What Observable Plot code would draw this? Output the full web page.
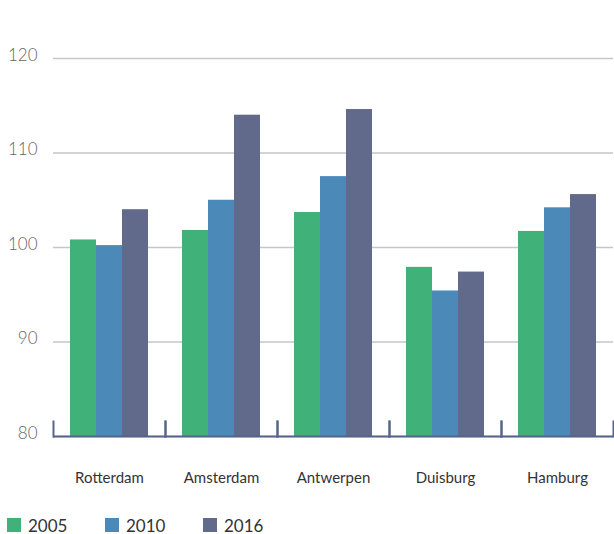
<!DOCTYPE html>
<html>
<head>
<meta charset="utf-8">
<script src="https://cdn.jsdelivr.net/npm/d3@7"></script>
<script src="https://cdn.jsdelivr.net/npm/@observablehq/plot@0.6"></script>
<style>
  html, body { margin: 0; padding: 0; background: #fff; }
  #chart { width: 614px; }
  .legend { display: flex; margin: 11px 0 0 7px; font: 17px Lato, sans-serif; color: #333; }
  .legend .item { display: flex; align-items: center; width: 98px; height: 18px; }
  .legend .swatch { width: 14px; height: 14px; margin-right: 7px; flex: none; }
</style>
</head>
<body>
<div id="chart"></div>
<script>
// Port throughput index by city and year
const cities = ["Rotterdam", "Amsterdam", "Antwerpen", "Duisburg", "Hamburg"];
const years = ["2005", "2010", "2016"];
const values2005 = [100.8, 101.8, 103.7, 97.9, 101.7];
const values2010 = [100.2, 105.0, 107.5, 95.4, 104.2];
const values2016 = [104.0, 114.0, 114.6, 97.4, 105.6];
const yTicks = [80, 90, 100, 110, 120];
const colors = ["#41b17a", "#4b89b8", "#626a8c"];

const series = [values2005, values2010, values2016];
const data = cities.flatMap((city, i) =>
  years.map((year, j) => ({city, year, value: series[j][i]}))
);

const axisColor = "#56658a";

const plot = Plot.plot({
  width: 614,
  height: 505,
  marginLeft: 52,
  marginRight: 0,
  marginTop: 58,
  marginBottom: 69,
  style: {fontFamily: "Lato, sans-serif", background: "#fff"},
  fx: {domain: cities, padding: 0, label: null},
  x: {domain: years, paddingInner: 0, paddingOuter: 0.6, axis: null},
  y: {domain: [80, 120], label: null},
  color: {domain: years, range: colors},
  marks: [
    Plot.gridY(yTicks, {stroke: "#c6c6c6", strokeOpacity: 1, strokeWidth: 1.5}),
    Plot.axisY(yTicks, {tickSize: 0, tickPadding: 16, fontSize: 17, fontWeight: 300, color: "#666", dy: -3, label: null}),
    Plot.barY(data, {fx: "city", x: "year", y1: 80, y2: "value", fill: "year"}),
    Plot.ruleY([80], {stroke: axisColor, strokeWidth: 2}),
    Plot.frame({anchor: "left", stroke: axisColor, strokeWidth: 2, insetTop: 363}),
    Plot.frame({anchor: "right", stroke: axisColor, strokeWidth: 2, insetTop: 363}),
    Plot.axisFx({anchor: "bottom", tickSize: 0, tickPadding: 36, fontSize: 15, color: "#333", label: null})
  ]
});

const chart = document.getElementById("chart");
chart.appendChild(plot);

// Legend below the chart
const legend = document.createElement("div");
legend.className = "legend";
const colorScale = plot.scale("color");
years.forEach((year, i) => {
  const item = document.createElement("div");
  item.className = "item";
  const sw = document.createElement("span");
  sw.className = "swatch";
  sw.style.background = colorScale.range[i];
  const label = document.createElement("span");
  label.textContent = year;
  item.appendChild(sw);
  item.appendChild(label);
  legend.appendChild(item);
});
chart.appendChild(legend);
</script>
</body>
</html>
